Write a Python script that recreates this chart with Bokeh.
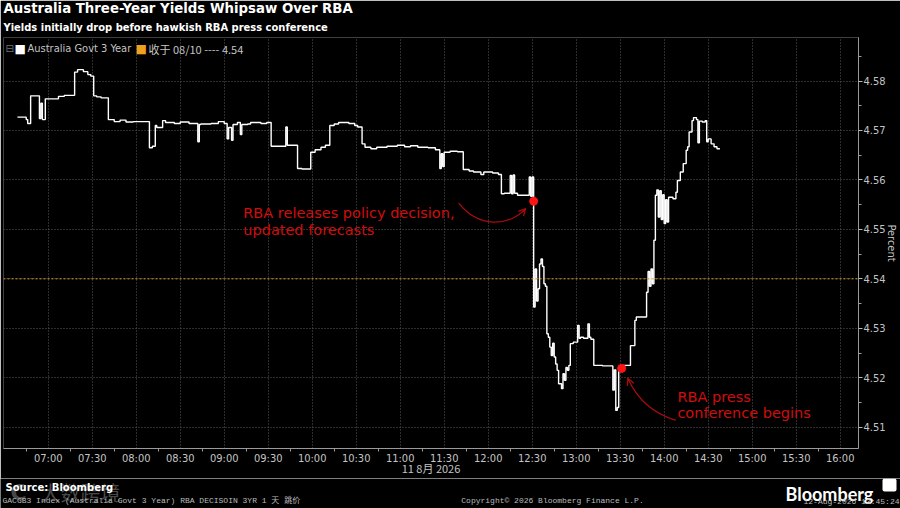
from bokeh.plotting import figure
from bokeh.layouts import column
from bokeh.models import Label, Span, FixedTicker, Arrow, OpenHead, Title, BoxAnnotation
from bokeh.embed import file_html
from bokeh.resources import INLINE

# ---------------------------------------------------------------- data
times = [
    "06:39", "06:45", "06:46", "06:48", "06:54", "06:55", "06:56", "06:58",
    "07:07", "07:11", "07:18", "07:20", "07:24", "07:27", "07:29", "07:31",
    "07:33", "07:36", "07:41", "07:45", "07:49", "07:53", "07:58", "08:09",
    "08:11", "08:13", "08:14", "08:18", "08:20", "08:26", "08:30", "08:36",
    "08:42", "08:43", "08:44", "08:51", "08:56", "09:00", "09:02", "09:03",
    "09:05", "09:06", "09:09", "09:11", "09:12", "09:16", "09:18", "09:25",
    "09:29", "09:32", "09:42", "09:43", "09:50", "09:53", "09:59", "10:02",
    "10:06", "10:09", "10:12", "10:15", "10:18", "10:25", "10:29", "10:31",
    "10:34", "10:36", "10:40", "10:44", "10:51", "10:58", "11:03", "11:07",
    "11:12", "11:19", "11:24", "11:27", "11:28", "11:29", "11:30", "11:34",
    "11:39", "11:43", "11:47", "11:50", "11:55", "11:57", "12:03", "12:07",
    "12:09", "12:11", "12:15", "12:16", "12:17", "12:18", "12:20", "12:24",
    "12:28", "12:29", "12:30", "12:31", "12:32", "12:33", "12:34", "12:35",
    "12:36", "12:37", "12:38", "12:39", "12:40", "12:41", "12:42", "12:43",
    "12:44", "12:45", "12:46", "12:47", "12:48", "12:50", "12:51", "12:52",
    "12:53", "12:54", "12:55", "12:56", "12:58", "13:01", "13:02", "13:03",
    "13:05", "13:08", "13:09", "13:10", "13:12", "13:18", "13:25", "13:26",
    "13:27", "13:28", "13:29", "13:31", "13:32", "13:37", "13:40", "13:41",
    "13:48", "13:49", "13:50", "13:51", "13:52", "13:53", "13:54", "13:55",
    "13:56", "13:57", "13:58", "13:59", "14:00", "14:01", "14:02", "14:03",
    "14:06", "14:08", "14:09", "14:11", "14:13", "14:15", "14:16", "14:17",
    "14:19", "14:20", "14:22", "14:23", "14:24", "14:26", "14:28", "14:29",
    "14:30", "14:32", "14:34", "14:36", "14:38",
]
yields = [
    4.5727, 4.5722, 4.5714, 4.5770, 4.5724, 4.5755, 4.5722, 4.5764,
    4.5769, 4.5771, 4.5818, 4.5823, 4.5819, 4.5813, 4.5810, 4.5770,
    4.5768, 4.5766, 4.5722, 4.5718, 4.5721, 4.5717, 4.5718, 4.5665,
    4.5668, 4.5710, 4.5706, 4.5720, 4.5716, 4.5714, 4.5717, 4.5714,
    4.5677, 4.5712, 4.5713, 4.5714, 4.5718, 4.5714, 4.5683, 4.5706,
    4.5680, 4.5712, 4.5716, 4.5692, 4.5712, 4.5713, 4.5716, 4.5714,
    4.5716, 4.5668, 4.5707, 4.5670, 4.5623, 4.5622, 4.5656, 4.5661,
    4.5666, 4.5670, 4.5710, 4.5713, 4.5716, 4.5714, 4.5710, 4.5707,
    4.5673, 4.5666, 4.5663, 4.5666, 4.5668, 4.5670, 4.5667, 4.5669,
    4.5666, 4.5665, 4.5661, 4.5623, 4.5653, 4.5627, 4.5656, 4.5658,
    4.5657, 4.5621, 4.5618, 4.5616, 4.5611, 4.5616, 4.5614, 4.5611,
    4.5572, 4.5573, 4.5609, 4.5572, 4.5610, 4.5573, 4.5569, 4.5569,
    4.5606, 4.5567, 4.5606, 4.5343, 4.5420, 4.5355, 4.5380, 4.5430,
    4.5440, 4.5425, 4.5390, 4.5385, 4.5289, 4.5282, 4.5262, 4.5245,
    4.5270, 4.5242, 4.5228, 4.5215, 4.5188, 4.5178, 4.5208, 4.5195,
    4.5221, 4.5215, 4.5225, 4.5269, 4.5272, 4.5306, 4.5280, 4.5282,
    4.5280, 4.5309, 4.5282, 4.5278, 4.5225, 4.5224, 4.5175, 4.5216,
    4.5134, 4.5140, 4.5215, 4.5219, 4.5225, 4.5265, 4.5316, 4.5323,
    4.5373, 4.5415, 4.5385, 4.5420, 4.5390, 4.5478, 4.5569, 4.5580,
    4.5525, 4.5578, 4.5520, 4.5570, 4.5512, 4.5560, 4.5515, 4.5565,
    4.5562, 4.5575, 4.5599, 4.5616, 4.5633, 4.5660, 4.5667, 4.5697,
    4.5720, 4.5726, 4.5722, 4.5675, 4.5719, 4.5717, 4.5720, 4.5677,
    4.5683, 4.5673, 4.5667, 4.5663, 4.5663,
]

previous_close = 4.54

event_times = ["12:31", "13:31"]
event_yields = [4.5557, 4.5219]

x_tick_labels = ["07:00", "07:30", "08:00", "08:30", "09:00", "09:30", "10:00",
                 "10:30", "11:00", "11:30", "12:00", "12:30", "13:00", "13:30",
                 "14:00", "14:30", "15:00", "15:30", "16:00"]
y_tick_labels = ["4.51", "4.52", "4.53", "4.54", "4.55", "4.56", "4.57", "4.58"]

RED_TEXT = "#d00d0d"
RED_LINE = "#a80c0c"
RED_DOT = "#ff1414"
GREY = "#c4c4c4"
NARROW = "Liberation Sans Narrow, DejaVu Sans Condensed, Liberation Sans"

FRAME_LEFT = 3
FRAME_BOTTOM = 448
MAIN_HEIGHT = FRAME_BOTTOM + 30
FOOT_HEIGHT = 508 - MAIN_HEIGHT


# ---------------------------------------------------------------- helpers
def to_min(s):
    h, m = s.split(":")
    return int(h) * 60 + int(m)


# text placed in the main frame, by pixel position on the page
def frame_text(p, text, px, py, size, color="white", font="DejaVu Sans"):
    p.add_layout(Label(x=px - FRAME_LEFT, y=FRAME_BOTTOM - py,
                       x_units="screen", y_units="screen",
                       text=text, text_font=font, text_font_size=size,
                       text_color=color, text_baseline="middle"))


# text in the footer strip, by pixel position on the page
def foot_text(f, text, px, py, size, color="white", bold=False, font="DejaVu Sans",
              align="left", alpha=1.0, baseline="middle"):
    f.add_layout(Label(x=px, y=py, text=text, text_font=font, text_font_size=size,
                       text_color=color, text_alpha=alpha,
                       text_font_style="bold" if bold else "normal",
                       text_align=align, text_baseline=baseline))


def red_text(p, text, t, v):
    p.add_layout(Label(x=to_min(t), y=v, text=text, text_color=RED_TEXT,
                       text_font="DejaVu Sans", text_font_size="14.5px",
                       text_baseline="middle"))


# ---------------------------------------------------------------- main chart
x = [to_min(t) for t in times]
x_ticks = [to_min(t) for t in x_tick_labels]
x_minor = [t + 15 for t in x_ticks[:-1]] + [x_ticks[0] - 15, x_ticks[-1] + 15]
y_ticks = [float(v) for v in y_tick_labels]
y_minor = [round(v - 0.005, 3) for v in y_ticks] + [4.585]

p = figure(width=900, height=MAIN_HEIGHT, title=None,
           x_range=(389.5, 972.5), y_range=(4.5057, 4.5888),
           y_axis_location="right",
           output_backend="svg", toolbar_location=None,
           background_fill_color="black", border_fill_color="black",
           outline_line_color=None, frame_align=False,
           min_border_left=FRAME_LEFT, min_border_right=40,
           min_border_top=37, min_border_bottom=MAIN_HEIGHT - FRAME_BOTTOM)

p.add_layout(Title(text="Yields initially drop before hawkish RBA press conference",
                   align="left", text_color="white", text_font="DejaVu Sans",
                   text_font_size="9.95px", text_font_style="bold", standoff=10,
                   offset=0), "above")
p.add_layout(Title(text="Australia Three-Year Yields Whipsaw Over RBA",
                   align="left", text_color="white", text_font="DejaVu Sans",
                   text_font_size="13.3px", text_font_style="bold", standoff=-3,
                   offset=0), "above")

xa = p.xaxis[0]
xa.ticker = FixedTicker(ticks=x_ticks, minor_ticks=x_minor)
xa.major_label_overrides = dict(zip(x_ticks, x_tick_labels))
xa.axis_line_color = "#9a9a9a"
xa.major_tick_line_color = "#9a9a9a"
xa.minor_tick_line_color = "#9a9a9a"
xa.major_tick_in = 0
xa.major_tick_out = 0
xa.minor_tick_in = 0
xa.minor_tick_out = 3
xa.major_label_standoff = 0
xa.major_label_text_color = GREY
xa.major_label_text_font = NARROW
xa.major_label_text_font_size = "11px"
xa.axis_label = "11 8月 2026"
xa.axis_label_standoff = -8
xa.axis_label_text_color = GREY
xa.axis_label_text_font = "Liberation Sans Narrow, Noto Sans CJK SC"
xa.axis_label_text_font_size = "11px"
xa.axis_label_text_font_style = "normal"

ya = p.yaxis[0]
ya.ticker = FixedTicker(ticks=y_ticks, minor_ticks=y_minor)
ya.major_label_overrides = dict(zip(y_ticks, y_tick_labels))
ya.axis_line_color = "#9a9a9a"
ya.major_tick_line_color = "#bbbbbb"
ya.minor_tick_line_color = "#9a9a9a"
ya.major_tick_in = 0
ya.major_tick_out = 4
ya.minor_tick_in = 0
ya.minor_tick_out = 3
ya.major_label_standoff = 1
ya.major_label_text_color = GREY
ya.major_label_text_font = NARROW
ya.major_label_text_font_size = "11px"
ya.axis_label = "Percent"
ya.axis_label_standoff = -4
ya.axis_label_text_color = GREY
ya.axis_label_text_font = NARROW
ya.axis_label_text_font_size = "11px"
ya.axis_label_text_font_style = "normal"

for g in (p.xgrid[0], p.ygrid[0]):
    g.grid_line_color = "#5a5a5a"
    g.grid_line_dash = "1 2"
    g.grid_line_width = 1

p.add_layout(Span(location=previous_close, dimension="width",
                  line_color="#d89628", line_dash="2 2", line_width=1))

p.step(x=x, y=yields, mode="after", line_color="white", line_width=1.4)

# annotations
ex = [to_min(t) for t in event_times]
p.scatter(x=ex, y=event_yields, size=8, color=RED_DOT)

red_text(p, "RBA releases policy decision,", "09:13", 4.5534)
red_text(p, "updated forecasts", "09:13", 4.5498)
red_text(p, "RBA press", "14:09", 4.5162)
red_text(p, "conference begins", "14:09", 4.5128)

arrows = [
    # start, control 0, control 1, end  (minutes, percent)
    ((699.9, 4.5553), (713.5, 4.5502), (734.0, 4.5506), (745.6, 4.5542)),
    ((847.9, 4.5114), (832.2, 4.5128), (821.3, 4.5158), (815.2, 4.5199)),
]
for (x0, y0), (cx0, cy0), (cx1, cy1), (x1, y1) in arrows:
    p.bezier(x0=[x0], y0=[y0], x1=[x1], y1=[y1], cx0=[cx0], cy0=[cy0],
             cx1=[cx1], cy1=[cy1], line_color=RED_LINE, line_width=1.3)
    p.add_layout(Arrow(end=OpenHead(size=7, line_color=RED_LINE, line_width=1.3),
                       x_start=x1 - 0.2 * (x1 - cx1), y_start=y1 - 0.2 * (y1 - cy1),
                       x_end=x1, y_end=y1, line_color=RED_LINE, line_width=1.3))

# legend row
frame_text(p, "\u229f", 5, 48, "10px", color="#777777")
frame_text(p, "\u25a0", 14, 48, "12px", color="white")
frame_text(p, "Australia Govt 3 Year", 27, 48, "11px", color=GREY, font=NARROW)
frame_text(p, "\u25a0", 135, 48, "12px", color="#f0a020")
frame_text(p, "收于 08/10 ---- 4.54", 148, 48, "11px", color=GREY,
           font="Liberation Sans Narrow, Noto Sans CJK SC")

# ---------------------------------------------------------------- footer strip
f = figure(width=900, height=FOOT_HEIGHT, x_range=(0, 900), y_range=(508, MAIN_HEIGHT),
           x_axis_location=None, y_axis_location=None,
           output_backend="svg", toolbar_location=None,
           background_fill_color="black", border_fill_color="black",
           outline_line_color=None, frame_align=False,
           min_border_left=0, min_border_right=0, min_border_top=0, min_border_bottom=0)
f.grid.visible = False

foot_text(f, "C", 10, 492, "22px", bold=True, alpha=0.3)
foot_text(f, "大数跨境", 40, 492, "20px", alpha=0.3, font="Noto Sans CJK SC")
foot_text(f, "Source: Bloomberg", 5, 487, "10px", bold=True)
foot_text(f, "Bloomberg", 785, 493, "18px", bold=True, font="Lato", baseline="alphabetic")
f.add_layout(BoxAnnotation(left=882, right=896, top=478, bottom=491,
                           fill_color="white", fill_alpha=1, line_color=None,
                           border_radius=2))
foot_text(f, "GACGB3 Index (Australia Govt 3 Year) RBA DECISOIN 3YR 1 天 跳价", 2, 500,
          "8px", color="#bbbbbb", font="Liberation Mono, Noto Sans CJK SC")
foot_text(f, "Copyright\u00a9 2026 Bloomberg Finance L.P.", 552, 500, "8px",
          color="#bbbbbb", font="Liberation Mono", align="center")
foot_text(f, "12-Aug-2026 13:45:24", 899, 501, "8px", color="#bbbbbb",
          font="Liberation Mono", align="right")

open("out.html", "w").write(file_html(column(p, f, spacing=0), INLINE))
